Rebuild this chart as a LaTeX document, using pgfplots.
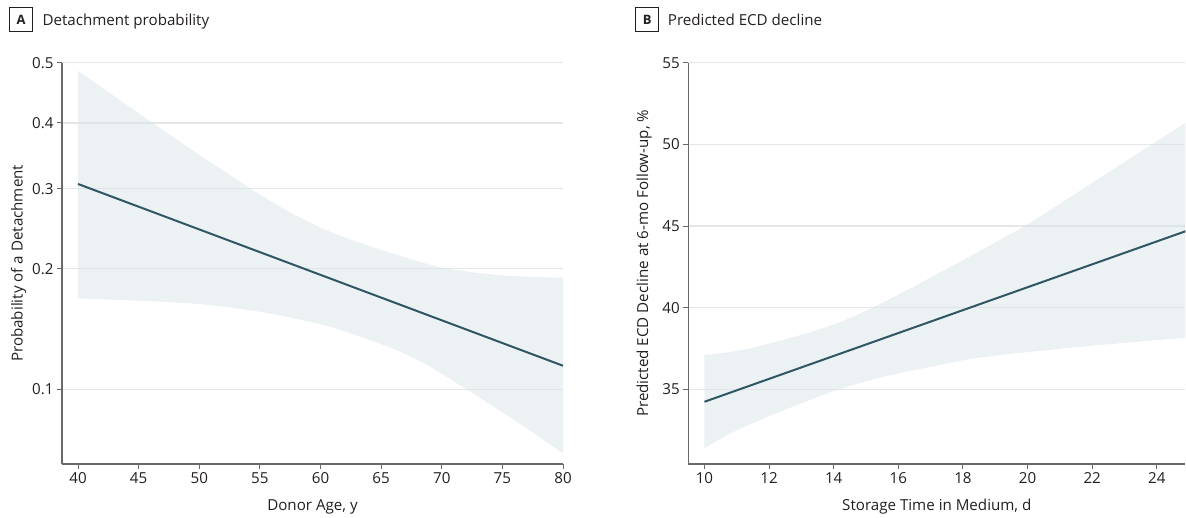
\documentclass[border=0pt]{standalone}
\usepackage{fontspec}
\setmainfont{Open Sans}
\usepackage{pgfplots}
\pgfplotsset{compat=1.18}
\usepgfplotslibrary{fillbetween}
\definecolor{bandc}{RGB}{218,227,234}
\definecolor{fitc}{RGB}{47,87,99}
\definecolor{gridc}{RGB}{230,230,230}
\definecolor{axc}{RGB}{105,105,105}
\definecolor{txt}{RGB}{35,31,32}
\pgfplotsset{
 myax/.style={
  scale only axis,
  axis x line*=bottom, axis y line*=left,
  axis line style={axc, line width=1.2bp},
  tick align=outside,
  major tick length=5bp,
  tick style={axc, line width=1bp},
  ymajorgrids, grid style={gridc, line width=1.2bp},
  ticklabel style={font=\fontsize{15.2}{18}\selectfont, text=txt},
  label style={font=\fontsize{15.2}{18}\selectfont, text=txt},
  /pgf/number format/assume math mode=true,
 }
}
\begin{document}
\begin{tikzpicture}
% Panel A -- y values are on the logit scale, ln(p/(1-p)), as drawn in the reference
\begin{axis}[myax, at={(62bp,53bp)}, anchor=south west,
  width=501bp, height=401.3bp,
  xmin=38.68, xmax=80, ymin=-2.70, ymax=0,
  xtick={40,45,...,80},
  ytick={-2.1972,-1.3863,-0.8473,-0.4055,0}, yticklabels={0.1,0.2,0.3,0.4,0.5},
  xlabel={Donor Age, y}, ylabel={Probability of a Detachment},
  xlabel style={at={(axis description cs:0.5,-0.1159)}, anchor=base},
  ylabel style={at={(axis description cs:-0.0864,0.5)}, anchor=center},
]
\addplot[name path=upA, draw=none, smooth] table {
40 -0.054
43 -0.226
46.2 -0.408
50 -0.620
54.2 -0.845
57 -0.985
60 -1.110
63 -1.205
66.6 -1.300
70.1 -1.380
74.8 -1.430
80 -1.447
};
\addplot[name path=loA, draw=none, smooth] table {
40 -1.586
46.8 -1.608
50.9 -1.631
55.0 -1.676
57.8 -1.720
60.8 -1.777
63.3 -1.844
66.0 -1.925
68.8 -2.034
71.5 -2.170
74.3 -2.315
77.0 -2.460
80 -2.629
};
\addplot[bandc, fill opacity=0.5, draw=none] fill between[of=upA and loA];
\addplot[fitc, line width=2bp] table {
40 -0.816
80 -2.039
};
\end{axis}
% Panel B
\begin{axis}[myax, at={(688.3bp,53bp)}, anchor=south west,
  width=497bp, height=401.3bp,
  xmin=9.5, xmax=24.88, ymin=30.43, ymax=55,
  xtick={10,12,...,24}, ytick={35,40,...,55},
  xlabel={Storage Time in Medium, d}, ylabel={Predicted ECD Decline at 6-mo Follow-up, \%},
  xlabel style={at={(axis description cs:0.5,-0.1159)}, anchor=base},
  ylabel style={at={(axis description cs:-0.089,0.5)}, anchor=center},
]
\addplot[name path=upB, draw=none, smooth] table {
10 37.10
11.27 37.45
13.16 38.43
14.3 39.20
15.4 40.20
17.0 41.85
19.87 44.96
22.4 48.16
25 51.46
};
\addplot[name path=loB, draw=none, smooth] table {
10 31.39
10.9 32.40
12.34 33.63
14.09 34.95
15.6 35.80
17.29 36.49
18.54 36.95
21.6 37.60
25 38.18
};
\addplot[bandc, fill opacity=0.5, draw=none] fill between[of=upB and loB];
\addplot[fitc, line width=2bp] table {
10 34.24
25 44.76
};
\end{axis}
% Panel titles
\node[draw=txt, line width=0.9bp, minimum width=23bp, minimum height=24bp, inner sep=0pt, text=txt, font=\fontsize{13}{15}\selectfont\bfseries] at (21bp,497.3bp) {A};
\node[anchor=base west, inner sep=0pt, text=txt, font=\fontsize{15.2}{18}\selectfont] at (42.3bp,491bp) {Detachment probability};
\node[draw=txt, line width=0.9bp, minimum width=23bp, minimum height=24bp, inner sep=0pt, text=txt, font=\fontsize{13}{15}\selectfont\bfseries] at (647.2bp,497.3bp) {B};
\node[anchor=base west, inner sep=0pt, text=txt, font=\fontsize{15.2}{18}\selectfont] at (667.7bp,491bp) {Predicted ECD decline};
\path (0bp,0bp) rectangle (1186bp,517bp);
\end{tikzpicture}
\end{document}
